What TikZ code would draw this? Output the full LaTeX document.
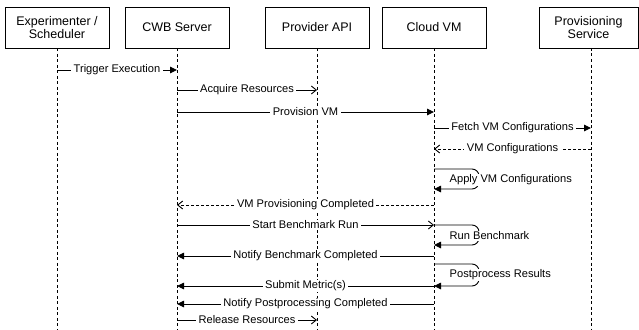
\documentclass[tikz,border=0pt]{standalone}
\usepackage{fontspec}
\setmainfont{Liberation Sans}
\usetikzlibrary{arrows.meta}
\begin{document}
\begin{tikzpicture}[x=1pt,y=-1pt,
  actor/.style={draw,line width=0.9pt,minimum width=104pt,minimum height=41pt,align=center,inner sep=0pt,font=\fontsize{12.5}{13.5}\selectfont},
  life/.style={line width=0.9pt,dash pattern=on 3pt off 2.5pt},
  lbl/.style={fill=white,inner xsep=2.5pt,inner ysep=1pt,font=\fontsize{11.1}{12}\selectfont},
  sync/.style={line width=0.9pt,-{Triangle[length=7pt,width=6.5pt]}},
  async/.style={line width=0.9pt,-{Straight Barb[length=5pt,width=8pt]}},
  reply/.style={line width=0.9pt,dash pattern=on 3pt off 2pt,-{Straight Barb[length=5pt,width=8pt]}},
  selfloop/.style={line width=0.9pt,rounded corners=7pt,-{Triangle[length=7pt,width=6.5pt]}}
]
\useasboundingbox (0,0) rectangle (639,329);
% actors
\node[actor] (exp) at (57,27.5) {Experimenter /\\Scheduler};
\node[actor] (cwb) at (177,27.5) {CWB Server};
\node[actor] (api) at (317,27.5) {Provider API};
\node[actor] (vm)  at (434,27.5) {Cloud VM};
\node[actor,minimum width=99pt] (prov) at (588.5,27.5) {Provisioning\\Service};
\coordinate (pl) at (591,48);
% lifelines
\coordinate (bot) at (0,329);
\draw[life] (exp.south) -- (exp.south |- bot);
\draw[life] (cwb.south) -- (cwb.south |- bot);
\draw[life] (api.south) -- (api.south |- bot);
\draw[life] (vm.south)  -- (vm.south |- bot);
\draw[life] (pl) -- (pl |- bot);
% message rows
\foreach \n/\y in {a/70,b/90,c/112,d/128,e/149,f/169,g/189,h/205,i/225,j/245,k/256,l/264,m/286,n/304,o/320}
  \coordinate (r\n) at (0,\y);
% messages
\draw[sync] (exp |- ra) -- node[lbl]{Trigger Execution} (cwb |- ra);
\draw[async] (cwb |- rb) -- node[lbl]{Acquire Resources} (api |- rb);
\draw[sync] (cwb |- rc) -- node[lbl]{Provision VM} (vm |- rc);
\draw[sync] (vm |- rd) -- node[lbl]{Fetch VM Configurations} (pl |- rd);
\draw[reply] (pl |- re) -- node[lbl]{VM Configurations} (vm |- re);
\draw[selfloop] (vm |- rf) -- ++(45,0) -- ++(0,20) -- (vm |- rg);
\node[lbl,anchor=west] at ([xshift=13pt,yshift=-11pt]vm |- rf) {Apply VM Configurations};
\draw[reply] (vm |- rh) -- node[lbl]{VM Provisioning Completed} (cwb |- rh);
\draw[async] (cwb |- ri) -- node[lbl]{Start Benchmark Run} (vm |- ri);
\draw[selfloop] (vm |- ri) -- ++(45,0) -- ++(0,20) -- (vm |- rj);
\node[lbl,anchor=west] at ([xshift=13pt,yshift=-11pt]vm |- ri) {Run Benchmark};
\draw[sync] (vm |- rk) -- node[lbl]{Notify Benchmark Completed} (cwb |- rk);
\draw[selfloop] (vm |- rl) -- ++(45,0) -- ++(0,22) -- (vm |- rm);
\node[lbl,anchor=west] at ([xshift=13pt,yshift=-11pt]vm |- rl) {Postprocess Results};
\draw[sync] (vm |- rm) -- node[lbl]{Submit Metric(s)} (cwb |- rm);
\draw[sync] (vm |- rn) -- node[lbl]{Notify Postprocessing Completed} (cwb |- rn);
\draw[async] (cwb |- ro) -- node[lbl]{Release Resources} (api |- ro);
\end{tikzpicture}
\end{document}
